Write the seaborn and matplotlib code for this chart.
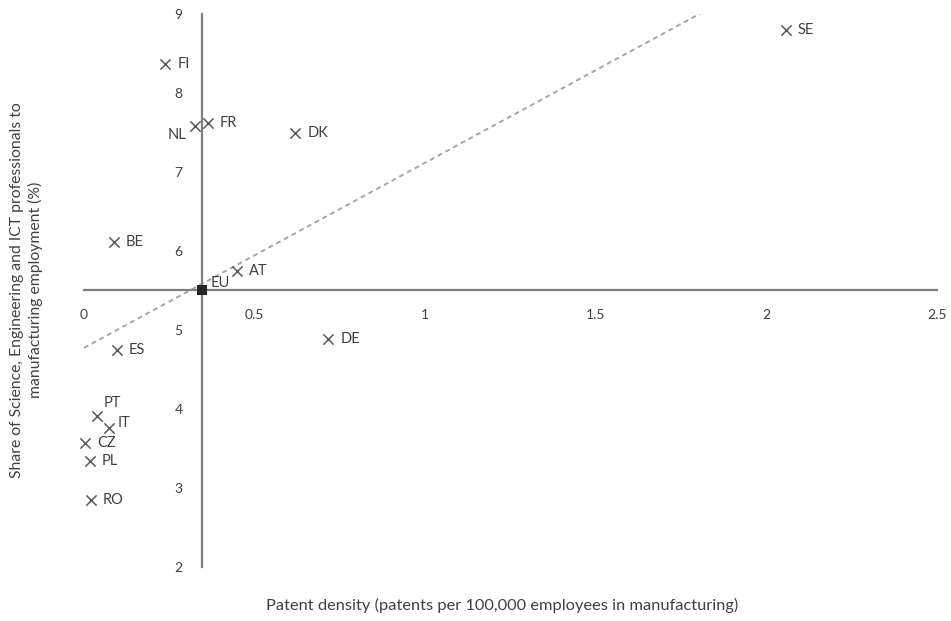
import matplotlib
matplotlib.use("Agg")
import matplotlib.pyplot as plt
import seaborn as sns
import numpy as np
import pandas as pd

# Country values: patent density vs. share of S&E/ICT professionals
countries = ["FI", "NL", "FR", "DK", "BE", "AT", "DE", "ES", "PT", "IT", "CZ", "PL", "RO", "SE"]
patent_density = [0.238, 0.326, 0.363, 0.619, 0.088, 0.449, 0.716, 0.097, 0.038, 0.073, 0.003, 0.018, 0.020, 2.056]
professional_share = [8.37, 7.58, 7.62, 7.49, 6.11, 5.75, 4.89, 4.75, 3.91, 3.76, 3.57, 3.34, 2.85, 8.80]

# EU average, where the two axes cross
eu_label = "EU"
eu_density = 0.346
eu_share = 5.5

x_ticks = [0, 0.5, 1, 1.5, 2, 2.5]
x_tick_labels = ["0", "0.5", "1", "1.5", "2", "2.5"]
y_ticks = [2, 3, 4, 5, 6, 7, 8, 9]
y_tick_labels = ["2", "3", "4", "5", "6", "7", "8", "9"]

df = pd.DataFrame({"country": countries, "density": patent_density, "share": professional_share})

# label offsets in pixels (dx, dy, ha)
label_offsets = {
    "NL": (-9, -9, "right"),
    "PT": (7, 13, "left"),
    "IT": (9, 5, "left"),
}
default_offset = (12, 0, "left")

sns.set_style("white")
plt.rcParams["font.family"] = ["Lato", "DejaVu Sans"]

fig = plt.figure(figsize=(9.51, 6.21), dpi=100)
ax = fig.add_axes([0.0883, 0.087, 0.897, 0.8905])
ax.set_xlim(0, 2.5)
ax.set_ylim(2, 9)

text_color = "#404040"
axis_color = "#7f7f7f"

# linear trend over the countries, spanning the full x range
sns.regplot(data=df, x="density", y="share", scatter=False, ci=None, truncate=False,
            ax=ax, line_kws=dict(color="#a6a6a6", lw=1.4, ls=(0, (2.5, 2.0))))

sns.scatterplot(data=df, x="density", y="share", marker="x", color="#595959",
                s=55, linewidth=1.1, ax=ax, zorder=3)
sns.scatterplot(x=[eu_density], y=[eu_share], marker="s", color="#262626",
                s=45, linewidth=0, ax=ax, zorder=4)
for coll in ax.collections:
    coll.set_clip_on(False)

for c, xv, yv in zip(countries, patent_density, professional_share):
    dx, dy, ha = label_offsets.get(c, default_offset)
    ax.annotate(c, (xv, yv), xytext=(dx, dy), textcoords="offset pixels",
                ha=ha, va="center", fontsize=10.5, color=text_color)
ax.annotate(eu_label, (eu_density, eu_share), xytext=(9, 7), textcoords="offset pixels",
            ha="left", va="center", fontsize=10.5, color=text_color)

# axes cross at the EU average
for side in ["top", "right"]:
    ax.spines[side].set_visible(False)
ax.spines["left"].set_position(("data", eu_density))
ax.spines["bottom"].set_position(("data", eu_share))
for side in ["left", "bottom"]:
    ax.spines[side].set_color(axis_color)
    ax.spines[side].set_linewidth(1.6)

ax.set_xticks(x_ticks)
ax.set_xticklabels(x_tick_labels)
ax.set_yticks(y_ticks)
ax.set_yticklabels(y_tick_labels)
ax.tick_params(axis="both", length=0, labelsize=10, labelcolor=text_color)
ax.tick_params(axis="x", pad=13)
ax.tick_params(axis="y", pad=14)

ax.set_xlabel("")
ax.set_ylabel("")
fig.text(0.528, 0.025, "Patent density (patents per 100,000 employees in manufacturing)",
         ha="center", va="center", fontsize=11.8, color=text_color)
fig.text(0.028, 0.533, "Share of Science, Engineering and ICT professionals to\nmanufacturing employment (%)",
         ha="center", va="center", rotation=90, fontsize=11.3, color=text_color,
         linespacing=1.35)

fig.savefig("out.png", dpi=100)
